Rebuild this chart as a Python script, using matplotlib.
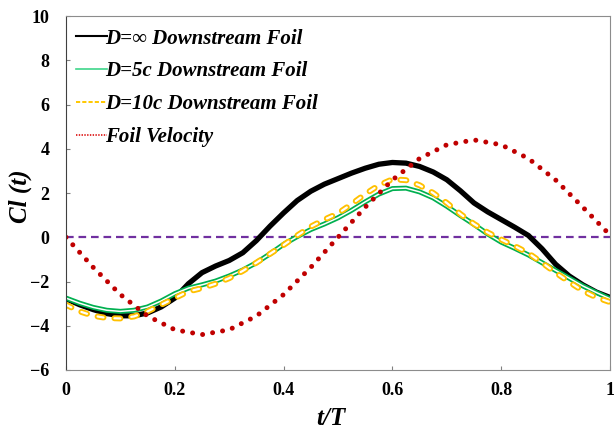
import matplotlib.pyplot as plt

plt.rcParams['lines.scale_dashes'] = False
plt.rcParams['font.family'] = ['Liberation Serif', 'DejaVu Serif']

# t/T sample points for the lift curves
t_cl = [0.0, 0.025, 0.05, 0.075, 0.1, 0.125, 0.15, 0.175, 0.2, 0.225,
        0.25, 0.275, 0.3, 0.325, 0.35, 0.375, 0.4, 0.425, 0.45, 0.475,
        0.5, 0.525, 0.55, 0.575, 0.6, 0.625, 0.65, 0.675, 0.7, 0.725,
        0.75, 0.775, 0.8, 0.825, 0.85, 0.875, 0.9, 0.925, 0.95, 0.975, 1.0]

# lift coefficient
cl_inf = [-2.78, -3.05, -3.27, -3.45, -3.55, -3.55, -3.42, -3.15, -2.75, -2.1,
          -1.6, -1.3, -1.05, -0.7, -0.15, 0.5, 1.1, 1.66, 2.08, 2.4,
          2.65, 2.9, 3.12, 3.3, 3.38, 3.35, 3.2, 2.95, 2.6, 2.1,
          1.55, 1.15, 0.8, 0.45, 0.08, -0.52, -1.22, -1.75, -2.15, -2.48, -2.72]
cl_5c = [-2.75, -2.98, -3.17, -3.3, -3.35, -3.3, -3.15, -2.88, -2.55, -2.3,
         -2.15, -1.98, -1.75, -1.48, -1.15, -0.75, -0.32, 0.03, 0.35, 0.6,
         0.88, 1.22, 1.6, 1.95, 2.2, 2.22, 2.05, 1.78, 1.4, 0.98,
         0.58, 0.15, -0.22, -0.5, -0.8, -1.15, -1.5, -1.85, -2.2, -2.5, -2.78]
cl_10c = [-3.05, -3.35, -3.55, -3.65, -3.67, -3.58, -3.35, -3.05, -2.75, -2.45,
          -2.3, -2.1, -1.85, -1.52, -1.15, -0.75, -0.35, 0.08, 0.48, 0.8,
          1.08, 1.5, 1.95, 2.35, 2.62, 2.58, 2.35, 2.0, 1.55, 1.05,
          0.6, 0.22, -0.1, -0.4, -0.72, -1.15, -1.6, -2.02, -2.42, -2.72, -2.93]

# foil velocity
t_vel = [0.0, 0.05, 0.1, 0.15, 0.2, 0.25, 0.3, 0.35, 0.4, 0.45, 0.5,
         0.55, 0.6, 0.65, 0.7, 0.75, 0.8, 0.85, 0.9, 0.95, 1.0]
foil_vel = [0.0, -1.36, -2.59, -3.56, -4.18, -4.4, -4.18, -3.56, -2.59, -1.36, 0.0,
            1.36, 2.59, 3.56, 4.18, 4.4, 4.18, 3.56, 2.59, 1.36, 0.1]
zero_line = [0.0] * len(t_vel)

labels = ['D=\u221e Downstream Foil', 'D=5c Downstream Foil',
          'D=10c Downstream Foil', 'Foil Velocity']

x_ticks = [0, 0.2, 0.4, 0.6, 0.8, 1]
x_tick_labels = ['0', '0.2', '0.4', '0.6', '0.8', '1']
y_ticks = [-6, -4, -2, 0, 2, 4, 6, 8, 10]

GREEN = '#00B050'
YELLOW = '#FFC000'
RED = '#C00000'
PURPLE = '#7030A0'


def main():
    fig = plt.figure(figsize=(6.14, 4.33), dpi=100)
    ax = fig.add_axes([0.1075, 0.1455, 0.886, 0.8175])

    zl, = ax.plot(t_vel, zero_line, color=PURPLE, lw=1.6)
    zl.set_dashes((5.5, 3.5))

    ax.plot(t_cl, cl_inf, color='black', lw=3.8, solid_joinstyle='round')

    ax.plot(t_cl, cl_5c, color=GREEN, lw=3.6, solid_joinstyle='round')
    ax.plot(t_cl, cl_5c, color='white', lw=1.1, solid_joinstyle='round')

    y1, = ax.plot(t_cl, cl_10c, color=YELLOW, lw=4.3, dash_capstyle='round')
    y1.set_dashes((4.3, 7.9))
    y2, = ax.plot(t_cl, cl_10c, color='white', lw=1.6, dash_capstyle='round')
    y2.set_dashes((4.3, 7.9))

    rv, = ax.plot(t_vel, foil_vel, color=RED, lw=3.6, dash_capstyle='round')
    rv.set_dashes((0.001, 7.3))

    ax.set_xlim(0, 1)
    ax.set_ylim(-6, 10)
    ax.set_xticks(x_ticks)
    ax.set_xticklabels(x_tick_labels)
    ax.set_yticks(y_ticks)
    ax.tick_params(direction='in', length=3, color='#808080',
                   labelsize=13, pad=9)
    ax.tick_params(axis='y', pad=12)
    for lab in ax.get_xticklabels() + ax.get_yticklabels():
        lab.set_fontweight('bold')
    for side in ['top', 'right', 'bottom']:
        ax.spines[side].set_color('#8c8c8c')
    ax.spines['left'].set_color('#404040')

    ax.set_xlabel('t/T', fontsize=18, fontweight='bold', style='italic')
    ax.xaxis.set_label_coords(0.487, -0.105)
    ax.set_ylabel('Cl (t)', fontsize=18, fontweight='bold', style='italic')
    ax.yaxis.set_label_coords(-0.062, 0.49)

    # thin legend samples like the original
    h1, = ax.plot([], [], color='black', lw=1.5)
    h2, = ax.plot([], [], color='#3ED68A', lw=1.2)
    h3, = ax.plot([], [], color='#FFC800', lw=1.4)
    h3.set_dashes((3, 1.5))
    h4, = ax.plot([], [], color='#E03030', lw=1.4)
    h4.set_dashes((1, 1))
    ax.legend([h1, h2, h3, h4], labels, loc='upper left', frameon=False,
              prop={'family': ['Liberation Serif', 'DejaVu Serif'],
                    'weight': 'bold', 'style': 'italic', 'size': 15},
              handlelength=1.5, handletextpad=-0.1, labelspacing=0.62,
              borderaxespad=0.2, bbox_to_anchor=(-0.005, 1.0))

    fig.savefig('out.png', dpi=100)
    plt.close(fig)


if __name__ == '__main__':
    main()
